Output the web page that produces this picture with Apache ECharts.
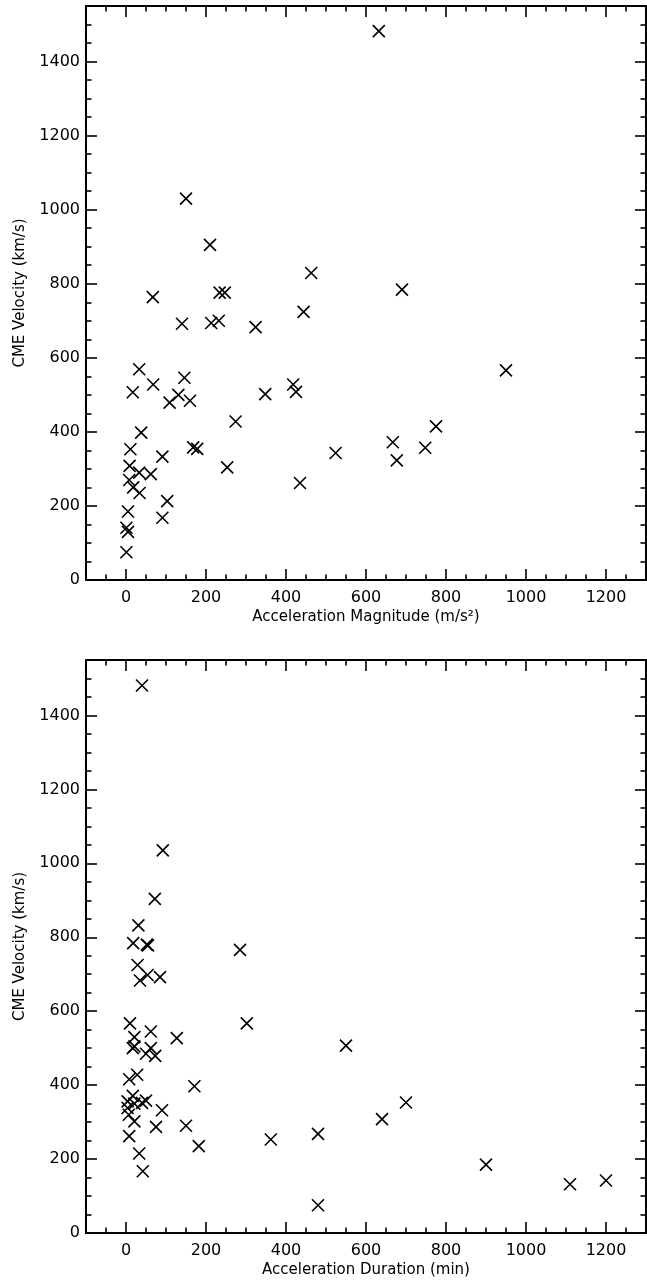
<!DOCTYPE html>
<html>
<head>
<meta charset="utf-8">
<script src="https://cdn.jsdelivr.net/npm/echarts@6/dist/echarts.min.js"></script>
<style>
html,body{margin:0;padding:0;background:#fff;}
#chart{width:647px;height:1283px;}
</style>
</head>
<body>
<div id="chart"></div>
<script>
// ---- data ----
const accMagnitude = [1,1,5,5,8,18,9,11,33,34,38,33,17,68,62,67,91,91,103,109,131,140,146,160,168,178,213,232,234,247,253,274,324,348,418,425,435,463,690,444,950,775,667,748,524,677,632,150,210];
const velocityMag  = [75,141,130,185,270,250,308,353,290,235,398,569,507,528,286,764,333,168,213,479,500,692,546,484,358,354,694,700,776,776,304,428,683,502,528,508,262,829,784,724,566,415,372,357,343,323,1482,1030,905];

const accDuration = [40,92,72,31,18,52,55,285,29,54,85,35,10,302,62,21,127,21,17,62,50,73,28,8,171,17,4,21,40,50,4,90,7,21,75,150,8,362,182,33,42,550,640,700,480,480,900,1110,1200];
const velocityDur = [1481,1035,904,832,784,780,778,766,725,698,692,683,567,567,545,530,527,505,500,500,485,479,428,416,397,371,356,350,352,358,338,332,320,302,287,290,262,253,235,215,167,507,308,353,268,75,185,132,142];

const xTickLabels = [0,200,400,600,800,1000,1200];
const yTickLabels = [0,200,400,600,800,1000,1200,1400];
const xRange = [-100, 1300];
const yRange = [0, 1550];
const xTitleTop = 'Acceleration Magnitude (m/s²)';
const xTitleBottom = 'Acceleration Duration (min)';
const yTitle = 'CME Velocity (km/s)';

// minor tick positions (every 50)
function minorTicks(lo, hi, step, majors){
  const out=[];
  for(let v=Math.ceil(lo/step)*step; v<=hi; v+=step){ if(majors.indexOf(v)<0) out.push(v); }
  return out;
}
const xMinor = minorTicks(xRange[0], xRange[1], 50, xTickLabels);
const yMinor = minorTicks(yRange[0], yRange[1], 50, yTickLabels);

const FONT = 'DejaVu Sans';
const black = '#000';

function axisSet(dim, gridIndex, range, majors, minors, name, nameGap){
  const pos = dim==='x' ? ['bottom','top'] : ['left','right'];
  const base = {type:'value', gridIndex, min:range[0], max:range[1], splitLine:{show:false}};
  const arr = [];
  pos.forEach((p, k)=>{
    arr.push(Object.assign({}, base, {
      position:p,
      axisLine:{show:true,onZero:false,lineStyle:{color:black,width:2}},
      axisTick:{show:true,inside:true,length:11,lineStyle:{color:black,width:1.6},customValues:majors},
      axisLabel: k===0 ? {show:true,customValues:majors,color:black,fontFamily:FONT,fontSize:16,margin: dim==='x'?10:6,
                          formatter:function(v){return String(v);}} : {show:false},
      name: k===0 ? name : '',
      nameLocation:'middle',
      nameGap: nameGap,
      nameTextStyle:{color:black,fontFamily:FONT,fontSize:15}
    }));
    arr.push(Object.assign({}, base, {
      position:p,
      axisLine:{show:false,onZero:false},
      axisTick:{show:true,inside:true,length:5.5,lineStyle:{color:black,width:1.6},customValues:minors},
      axisLabel:{show:false}
    }));
  });
  return arr;
}

const xAxes = [].concat(
  axisSet('x',0,xRange,xTickLabels,xMinor,xTitleTop,30),
  axisSet('x',1,xRange,xTickLabels,xMinor,xTitleBottom,30)
);
const yAxes = [].concat(
  axisSet('y',0,yRange,yTickLabels,yMinor,yTitle,58),
  axisSet('y',1,yRange,yTickLabels,yMinor,yTitle,58)
);

function zip(a,b){ return a.map((v,i)=>[v,b[i]]); }
const cross = 'path://M0,0L10,10M10,0L0,10';
function scatter(xi, yi, data){
  return {type:'scatter', xAxisIndex:xi, yAxisIndex:yi, data, symbol:cross, symbolSize:12,
    itemStyle:{color:'rgba(0,0,0,0)',borderColor:black,borderWidth:1.6,opacity:1}, silent:true};
}

const chart = echarts.init(document.getElementById('chart'), null, {renderer:'canvas'});
chart.setOption({
  animation:false,
  backgroundColor:'#fff',
  grid:[
    {left:86, top:6, width:560, height:574},
    {left:86, top:660, width:560, height:573}
  ],
  xAxis: xAxes,
  yAxis: yAxes,
  series:[
    scatter(0,0,zip(accMagnitude, velocityMag)),
    scatter(4,4,zip(accDuration, velocityDur))
  ]
});
</script>
</body>
</html>
